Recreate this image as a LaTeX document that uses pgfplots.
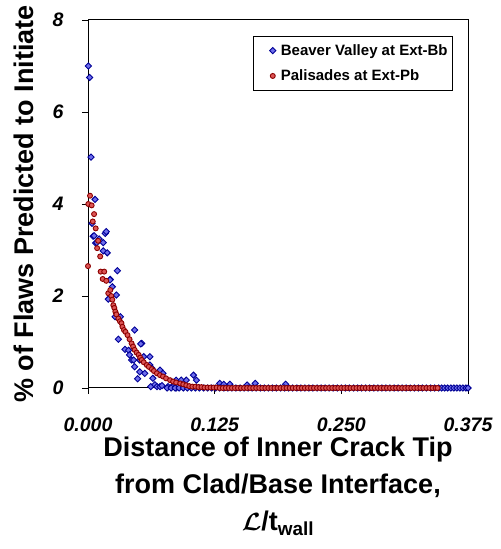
\documentclass[border=0pt]{standalone}
\usepackage{pgfplots}
\pgfplotsset{compat=1.18}
\usepackage{fontspec}
\setmainfont{Liberation Sans}
\definecolor{bedge}{RGB}{0,0,150}
\definecolor{bfill}{RGB}{110,110,235}
\definecolor{redge}{RGB}{140,0,0}
\definecolor{rfill}{RGB}{220,85,85}
\begin{document}
\begin{tikzpicture}
\begin{axis}[
  scale only axis, width=380pt, height=368pt,
  xmin=0, xmax=0.375, ymin=0, ymax=8,
  clip=false,
  axis line style={black, line width=1pt},
  xtick={0,0.125,0.25,0.375}, xticklabels={0.000,0.125,0.250,0.375},
  ytick={0,2,4,6,8}, yticklabels={0,2,4,6,8},
  tick align=outside, tick pos=left,
  major tick length=6pt,
  tick style={black, line width=0.8pt},
  tick label style={font=\fontsize{19.5}{22}\bfseries\itshape},
  xticklabel style={yshift=-20pt},
  yticklabel style={xshift=-15pt},
  every axis x label/.style={at={(rel axis cs:0.5,0)}, anchor=north, yshift=-45pt, align=center, font=\fontsize{27}{37}\bfseries},
  every axis y label/.style={at={(rel axis cs:0,0.5)}, xshift=-64pt, rotate=90, anchor=center, font=\fontsize{27}{30}\bfseries},
  xlabel={Distance of Inner Crack Tip\\from Clad/Base Interface,\\{\boldmath$\mathcal{L}$}/t\textsubscript{wall}},
  ylabel={\% of Flaws Predicted to Initiate},
  legend style={at={(rel axis cs:1,1)}, anchor=north east, xshift=-15pt, yshift=-16pt,
    font=\fontsize{15}{17}\bfseries, draw=black, line width=0.8pt, inner ysep=6pt, row sep=9pt},
  legend cell align=left,
  legend image code/.code={\path (-0.25cm,0cm) (0.5cm,0cm);
    \draw[mark repeat=2,mark phase=2] plot coordinates {(0cm,0cm) (0.3cm,0cm) (0.5cm,0cm)};},
]
\addplot[only marks, mark=square*, mark size=2.2pt, mark options={rotate=45, draw=bedge, fill=bfill, line width=0.9pt}] coordinates {
(0.0003,7.0) (0.0017,6.75) (0.003,5.02) (0.007,4.1) (0.004,3.58) (0.005,3.3) (0.006,3.31)
(0.0075,3.15) (0.017,3.36) (0.018,3.4) (0.011,3.24) (0.0086,3.16) (0.015,3.16) (0.015,2.98)
(0.019,2.94) (0.029,2.55) (0.022,2.36) (0.024,2.2) (0.0217,2.35) (0.028,2.02) (0.020,1.93)
(0.0267,1.55) (0.032,1.55) (0.046,1.26) (0.030,1.06) (0.0365,0.84) (0.040,0.82) (0.041,0.72)
(0.053,0.97) (0.052,0.96) (0.043,0.61) (0.045,0.61) (0.046,0.46) (0.049,0.2) (0.051,0.61)
(0.051,0.35) (0.055,0.68) (0.056,0.32) (0.061,0.68) (0.061,0.5) (0.063,0.43) (0.064,0.21)
(0.071,0.39) (0.074,0.32) (0.062,0.03) (0.066,0.07) (0.068,0.03) (0.071,0.03) (0.073,0.05)
(0.079,0.03) (0.083,0.03) (0.087,0.17) (0.087,0) (0.091,0.1) (0.092,0.17) (0.097,0.17)
(0.104,0.28) (0.107,0.17) (0.130,0.10) (0.134,0.08) (0.140,0.08) (0.157,0.065) (0.165,0.10)
(0.195,0.08)
(0.078,0) (0.082,0) (0.086,0) (0.090,0) (0.094,0) (0.098,0) (0.102,0) (0.106,0) (0.110,0)
(0.114,0) (0.118,0) (0.122,0) (0.126,0) (0.130,0) (0.134,0) (0.138,0) (0.142,0) (0.146,0)
(0.150,0) (0.154,0) (0.158,0) (0.162,0) (0.166,0) (0.170,0) (0.174,0) (0.178,0) (0.182,0)
(0.186,0) (0.190,0) (0.194,0) (0.198,0) (0.202,0) (0.206,0) (0.210,0) (0.214,0) (0.218,0)
(0.222,0) (0.226,0) (0.230,0) (0.234,0) (0.238,0) (0.242,0) (0.246,0) (0.250,0) (0.254,0)
(0.258,0) (0.262,0) (0.266,0) (0.270,0) (0.274,0) (0.278,0) (0.282,0) (0.286,0) (0.290,0)
(0.294,0) (0.298,0) (0.302,0) (0.306,0) (0.310,0) (0.314,0) (0.318,0) (0.322,0) (0.326,0)
(0.330,0) (0.334,0) (0.338,0) (0.342,0) (0.346,0) (0.349,0) (0.352,0) (0.355,0) (0.358,0)
(0.361,0) (0.364,0) (0.367,0) (0.370,0) (0.373,0) (0.375,0)
};
\addlegendentry{Beaver Valley at Ext-Bb}
\addplot[only marks, mark=*, mark size=2.5pt, mark options={draw=redge, fill=rfill, line width=0.9pt}] coordinates {
(0.000,2.65) (0.0003,4.0) (0.002,4.18) (0.0036,3.97) (0.006,3.78) (0.0047,3.62) (0.0076,3.47)
(0.009,3.04) (0.010,3.2) (0.012,2.86) (0.0125,2.53) (0.0145,2.37) (0.016,2.53) (0.018,2.33)
(0.020,2.06) (0.022,2.13) (0.023,2.0)
(0.024,1.92) (0.025,1.80) (0.026,1.74) (0.027,1.66) (0.028,1.60) (0.030,1.51) (0.0315,1.45)
(0.033,1.41) (0.034,1.33) (0.0355,1.26) (0.037,1.22) (0.039,1.15) (0.041,1.06) (0.043,0.97)
(0.0445,0.90) (0.046,0.83) (0.048,0.77) (0.050,0.72) (0.0515,0.66) (0.053,0.61) (0.055,0.56)
(0.058,0.50) (0.060,0.46) (0.063,0.41) (0.065,0.37) (0.068,0.32) (0.071,0.28) (0.074,0.25)
(0.077,0.21) (0.081,0.17) (0.084,0.14) (0.087,0.12) (0.091,0.10) (0.094,0.08) (0.097,0.06)
(0.100,0.04) (0.103,0.03) (0.106,0.03) (0.109,0.02) (0.112,0.02) (0.115,0.01)
(0.118,0.01) (0.121,0.01) (0.124,0.01) (0.127,0.01) (0.130,0) (0.133,0) (0.136,0) (0.139,0)
(0.142,0) (0.145,0) (0.148,0) (0.151,0) (0.154,0) (0.157,0) (0.160,0) (0.163,0) (0.166,0)
(0.169,0) (0.172,0) (0.175,0) (0.178,0) (0.181,0) (0.184,0) (0.187,0) (0.190,0) (0.193,0)
(0.196,0) (0.199,0) (0.202,0) (0.205,0) (0.208,0) (0.211,0) (0.214,0) (0.217,0) (0.220,0)
(0.223,0) (0.226,0) (0.229,0) (0.232,0) (0.235,0) (0.238,0) (0.241,0) (0.244,0) (0.247,0)
(0.250,0) (0.253,0) (0.256,0) (0.259,0) (0.262,0) (0.265,0) (0.268,0) (0.271,0) (0.274,0)
(0.277,0) (0.280,0) (0.283,0) (0.286,0) (0.289,0) (0.292,0) (0.295,0) (0.298,0) (0.301,0)
(0.304,0) (0.307,0) (0.310,0) (0.313,0) (0.316,0) (0.319,0) (0.322,0) (0.325,0) (0.328,0)
(0.331,0) (0.334,0) (0.337,0) (0.340,0) (0.343,0) (0.345,0)
};
\addlegendentry{Palisades at Ext-Pb}
\path (rel axis cs:0,0) coordinate (sw);
\path (rel axis cs:1,1) coordinate (ne);
\end{axis}
\pgfresetboundingbox
\path ([xshift=-88pt,yshift=-161pt]sw) rectangle ([xshift=32pt,yshift=20pt]ne);
\end{tikzpicture}
\end{document}
